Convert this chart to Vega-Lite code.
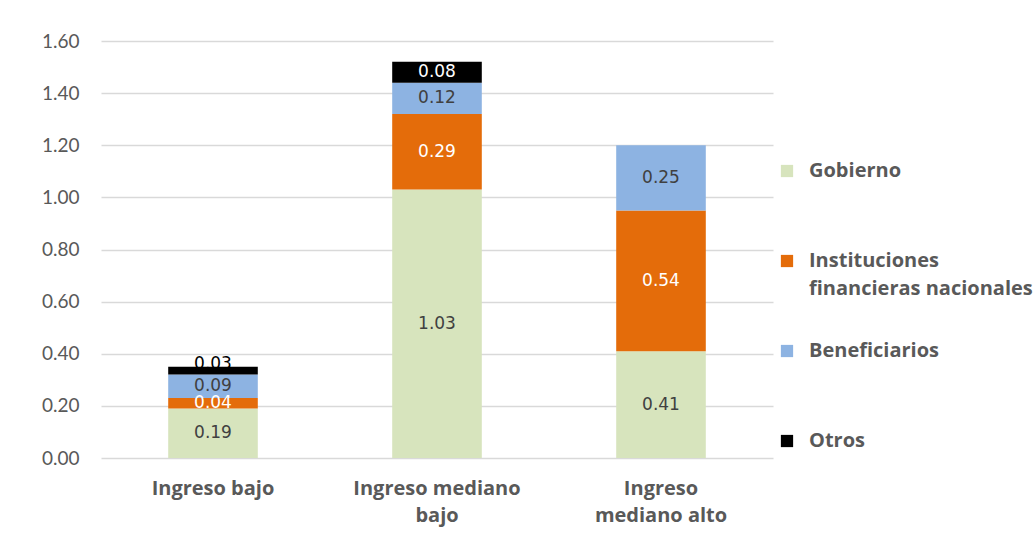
{
  "$schema": "https://vega.github.io/schema/vega-lite/v6.json",
  "autosize": {"type": "none"},
  "width": 672,
  "height": 417,
  "padding": {"left": 101, "top": 41, "right": 261, "bottom": 102},
  "background": "white",
  "config": {"view": {"stroke": null}},
  "data": {
    "values": [
      {"categoria": "Ingreso bajo", "serie": "Gobierno", "valor": 0.19},
      {"categoria": "Ingreso bajo", "serie": "Instituciones financieras nacionales", "valor": 0.04},
      {"categoria": "Ingreso bajo", "serie": "Beneficiarios", "valor": 0.09},
      {"categoria": "Ingreso bajo", "serie": "Otros", "valor": 0.03},
      {"categoria": "Ingreso mediano bajo", "serie": "Gobierno", "valor": 1.03},
      {"categoria": "Ingreso mediano bajo", "serie": "Instituciones financieras nacionales", "valor": 0.29},
      {"categoria": "Ingreso mediano bajo", "serie": "Beneficiarios", "valor": 0.12},
      {"categoria": "Ingreso mediano bajo", "serie": "Otros", "valor": 0.08},
      {"categoria": "Ingreso mediano alto", "serie": "Gobierno", "valor": 0.41},
      {"categoria": "Ingreso mediano alto", "serie": "Instituciones financieras nacionales", "valor": 0.54},
      {"categoria": "Ingreso mediano alto", "serie": "Beneficiarios", "valor": 0.25}
    ]
  },
  "transform": [
    {"calculate": "indexof(['Gobierno','Instituciones financieras nacionales','Beneficiarios','Otros'], datum.serie)", "as": "orden"},
    {"stack": "valor", "groupby": ["categoria"], "sort": [{"field": "orden", "order": "ascending"}], "as": ["y0", "y1"]},
    {"calculate": "(datum.y0 + datum.y1) / 2", "as": "ymid"}
  ],
  "encoding": {
    "x": {
      "field": "categoria",
      "type": "nominal",
      "sort": ["Ingreso bajo", "Ingreso mediano bajo", "Ingreso mediano alto"],
      "scale": {"paddingInner": 0.6, "paddingOuter": 0.3},
      "axis": {
        "title": null,
        "labelAngle": 0,
        "domain": false,
        "ticks": false,
        "labelFont": "Open Sans",
        "labelFontWeight": "bold",
        "labelFontSize": 20,
        "labelColor": "#595959",
        "labelPadding": 20,
        "labelLineHeight": 27,
        "labelExpr": "datum.label == 'Ingreso mediano bajo' ? ['Ingreso mediano', 'bajo'] : datum.label == 'Ingreso mediano alto' ? ['Ingreso', 'mediano alto'] : datum.label"
      }
    }
  },
  "layer": [
    {
      "mark": {"type": "bar"},
      "encoding": {
        "y": {
          "field": "y0",
          "type": "quantitative",
          "scale": {"domain": [0, 1.6], "nice": false},
          "axis": {
            "title": null,
            "values": [0, 0.2, 0.4, 0.6, 0.8, 1.0, 1.2, 1.4, 1.6],
            "format": ".2f",
            "domain": false,
            "ticks": false,
            "gridColor": "#d9d9d9",
            "gridWidth": 1.5,
            "labelFont": "Lato",
            "labelFontSize": 19,
            "labelColor": "#595959",
            "labelPadding": 22
          }
        },
        "y2": {"field": "y1"},
        "color": {
          "field": "serie",
          "type": "nominal",
          "scale": {
            "domain": ["Gobierno", "Instituciones financieras nacionales", "Beneficiarios", "Otros"],
            "range": ["#d7e4bd", "#e46c0a", "#8db3e2", "#000000"]
          },
          "legend": {
            "title": null,
            "orient": "none",
            "legendX": 676,
            "legendY": 120,
            "columns": 1,
            "gridAlign": "all",
            "symbolType": "square",
            "symbolSize": 150,
            "symbolStrokeWidth": 0,
            "labelFont": "Open Sans",
            "labelFontWeight": "bold",
            "labelFontSize": 20,
            "labelColor": "#595959",
            "labelLimit": 400,
            "labelOffset": 12,
            "rowPadding": 42,
            "encode": {"labels": {"update": {"lineHeight": {"value": 28}}}},
            "labelExpr": "datum.label == 'Instituciones financieras nacionales' ? ['Instituciones', 'financieras nacionales'] : datum.label"
          }
        }
      }
    },
    {
      "transform": [{"filter": "!(datum.serie == 'Otros' && datum.valor < 0.05)"}],
      "mark": {"type": "text", "font": "DejaVu Sans", "fontSize": 17, "baseline": "middle"},
      "encoding": {
        "y": {"field": "ymid", "type": "quantitative"},
        "text": {"field": "valor", "type": "quantitative", "format": ".2f"},
        "color": {
          "condition": {"test": "datum.serie == 'Gobierno' || datum.serie == 'Beneficiarios'", "value": "#404040"},
          "value": "#ffffff"
        }
      }
    },
    {
      "transform": [{"filter": "datum.serie == 'Otros' && datum.valor < 0.05"}],
      "mark": {"type": "text", "font": "DejaVu Sans", "fontSize": 17, "baseline": "middle", "dy": -7, "color": "#000000"},
      "encoding": {
        "y": {"field": "ymid", "type": "quantitative"},
        "text": {"field": "valor", "type": "quantitative", "format": ".2f"}
      }
    }
  ]
}
